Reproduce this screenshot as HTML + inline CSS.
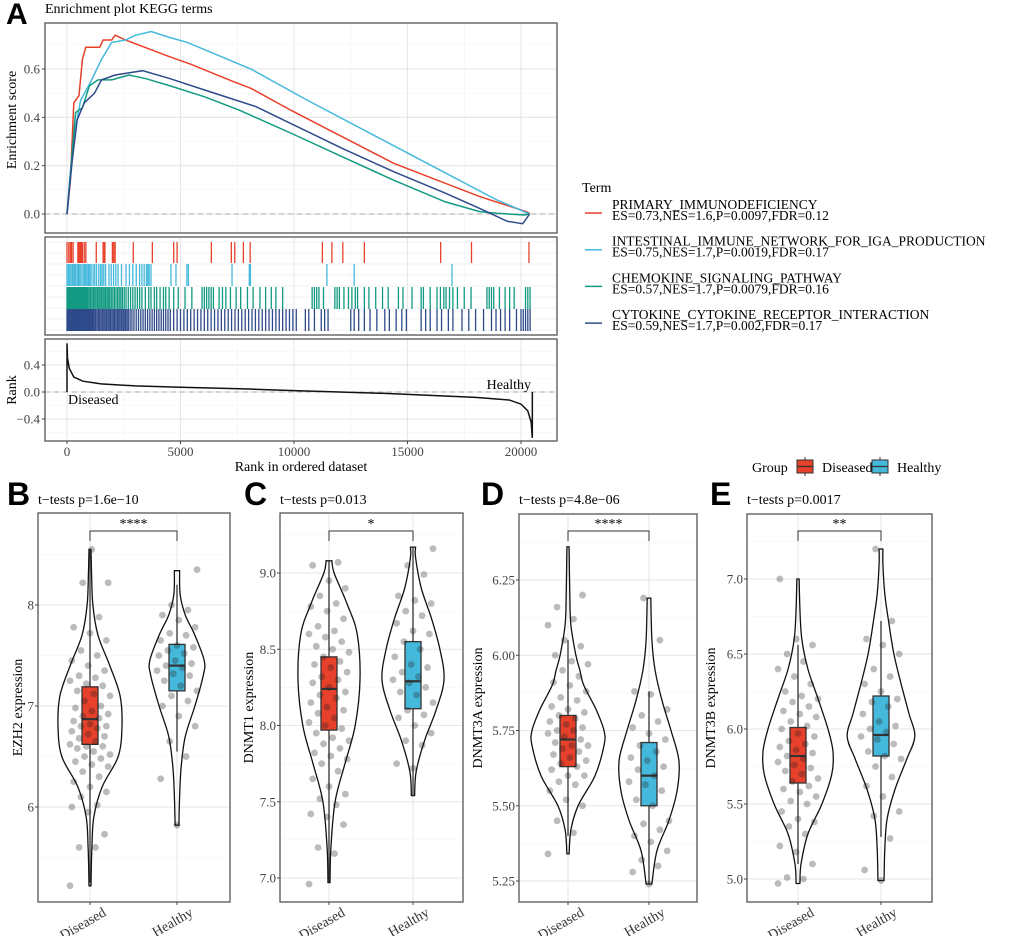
<!DOCTYPE html>
<html><head><meta charset="utf-8"><style>
body{margin:0;background:#fff;}
svg{display:block;font-family:"Liberation Serif",serif;}
</style></head><body>
<svg id="fig" width="1020" height="936" viewBox="0 0 1020 936"></svg>
<script>
// ---------- GSEA data ----------
const redRanks=[0,150,300,530,680,830,1440,1590,1970,2120,2580,4545,5450,7270,8100,9850,12120,14390,16670,18180,20230,20380];
const redES=[0,.14,.46,.49,.64,.69,.69,.72,.72,.74,.72,.65,.62,.55,.52,.43,.32,.21,.127,.072,.01,.003];
const blueRanks=[0,150,380,600,1060,1520,1970,2580,3030,3710,4545,5300,8100,10600,13640,16670,18940,20380];
const blueES=[0,.17,.36,.47,.55,.64,.71,.72,.74,.755,.73,.71,.60,.47,.32,.17,.058,0];
const greenRanks=[0,150,380,680,985,1360,1970,2730,3480,4545,6060,7580,9850,12120,14390,16670,18180,18940,20150,20380];
const greenES=[0,.17,.42,.44,.53,.555,.555,.575,.56,.53,.485,.43,.335,.237,.14,.05,.01,.003,-.004,0];
const navyRanks=[0,230,450,760,1210,1520,2120,3330,4545,6060,8330,9850,12120,14390,16670,18180,19390,20080,20380];
const navyES=[0,.22,.39,.46,.5,.555,.575,.593,.56,.513,.444,.375,.272,.175,.086,.023,-.03,-.04,0];
const redHits=[0,80,150,200,270,480,530,580,610,640,680,760,830,1290,1590,1640,1670,2000,2060,2120,2920,3760,4700,4850,6360,7240,7390,7770,8070,11250,11670,12150,13100,16460,17820,20350];
const blueHits=[0,60,120,180,240,300,330,380,450,500,560,620,700,760,820,880,940,1000,1060,1150,1220,1300,1400,1480,1550,1620,1700,1850,1950,2050,2150,2250,2400,2600,2750,2900,3050,3200,3300,3400,3500,3560,3620,3700,4580,4800,5280,5350,7270,8030,8080,11450,12650,16960];
const greenHits=[0,30,60,90,120,150,180,210,240,270,300,330,360,400,440,480,520,560,600,640,680,720,760,800,840,880,920,980,1040,1100,1160,1220,1280,1340,1400,1460,1520,1580,1640,1700,1760,1820,1880,1950,2020,2090,2160,2230,2300,2370,2440,2520,2600,2700,2800,2900,3000,3100,3200,3300,3450,3600,3700,3850,3950,4100,4250,4350,4500,4700,4900,5200,5500,5950,6050,6150,6250,6350,6450,6700,6850,7000,7200,7450,7650,7950,8200,8500,8750,9000,9200,9500,10800,10900,11000,11100,11300,11800,11900,12000,12200,12400,12550,12700,12800,13100,13300,13600,13900,14150,14600,14800,15200,15600,15700,16000,16300,16450,16600,16700,16850,17000,17200,17500,17800,18500,18600,18700,18800,19050,19300,19500,19700,20200,20300,20400];
const navyHits=[0,30,60,90,120,150,180,210,240,270,300,330,360,390,420,450,480,510,540,570,600,630,660,690,720,760,800,840,880,920,960,1000,1040,1080,1120,1160,1200,1260,1320,1380,1440,1500,1560,1620,1680,1740,1800,1860,1920,1980,2040,2100,2160,2220,2280,2340,2400,2460,2520,2580,2640,2700,2780,2860,2950,3050,3150,3250,3350,3450,3550,3650,3750,3850,3950,4050,4150,4250,4350,4450,4550,4700,4850,5000,5150,5300,5450,5600,5750,5900,6050,6200,6350,6500,6650,6800,6950,7100,7250,7400,7550,7700,7850,8000,8150,8300,8450,8600,8750,8900,9050,9200,9350,9500,9650,9800,9950,10100,10500,10650,10900,11200,11350,11500,12500,12650,12850,13100,13350,13650,14000,14200,14500,14750,14950,15600,15800,16000,16300,16500,16800,17000,17400,17700,18000,18350,18700,18900,19100,19300,19500,19800,20000,20100,20200,20300,20400];
const rankX=[0,20,100,300,700,1500,3000,5000,8000,10000,12000,14000,16000,18000,19500,20000,20300,20450,20500];
const rankM=[.72,.5,.35,.22,.16,.12,.09,.07,.045,.02,0,-.02,-.05,-.08,-.12,-.18,-.28,-.45,-.68];
const xTicks=[0,5000,10000,15000,20000];
const esTicks=[0,0.2,0.4,0.6];
const rankTicks=[-0.4,0,0.4];
const termNames=["PRIMARY_IMMUNODEFICIENCY","INTESTINAL_IMMUNE_NETWORK_FOR_IGA_PRODUCTION","CHEMOKINE_SIGNALING_PATHWAY","CYTOKINE_CYTOKINE_RECEPTOR_INTERACTION"];
const termStats=["ES=0.73,NES=1.6,P=0.0097,FDR=0.12","ES=0.75,NES=1.7,P=0.0019,FDR=0.17","ES=0.57,NES=1.7,P=0.0079,FDR=0.16","ES=0.59,NES=1.7,P=0.002,FDR=0.17"];

// ---------- violin data ----------
const bDisVals=[5.22,5.6,5.6,5.73,5.95,6.0,6.02,6.1,6.15,6.2,6.25,6.3,6.35,6.4,6.42,6.45,6.48,6.5,6.52,6.55,6.58,6.6,6.6,6.62,6.65,6.68,6.7,6.72,6.75,6.78,6.8,6.8,6.82,6.85,6.88,6.9,6.92,6.95,6.98,7.0,7.05,7.1,7.12,7.15,7.2,7.22,7.25,7.28,7.3,7.35,7.4,7.45,7.5,7.55,7.65,7.72,7.78,7.88,8.22,8.22,8.55];
const bHeaVals=[5.82,6.28,6.5,6.65,6.8,6.9,7.0,7.05,7.1,7.15,7.2,7.25,7.3,7.32,7.35,7.38,7.4,7.42,7.45,7.5,7.52,7.55,7.58,7.6,7.65,7.7,7.72,7.78,7.85,7.9,7.95,8.0,8.35];
const cDisVals=[6.96,7.16,7.2,7.35,7.4,7.42,7.48,7.52,7.55,7.6,7.65,7.7,7.75,7.78,7.8,7.82,7.85,7.88,7.9,7.92,7.95,7.98,8.0,8.02,8.05,8.08,8.1,8.12,8.15,8.18,8.2,8.22,8.25,8.28,8.3,8.32,8.35,8.38,8.4,8.42,8.45,8.48,8.5,8.52,8.55,8.58,8.6,8.62,8.65,8.7,8.75,8.78,8.8,8.85,8.9,8.95,9.05,9.07];
const cHeaVals=[7.72,7.75,7.87,7.9,7.95,8.0,8.05,8.07,8.1,8.15,8.2,8.22,8.25,8.28,8.3,8.32,8.35,8.38,8.4,8.45,8.5,8.55,8.6,8.62,8.67,8.72,8.75,8.8,8.82,8.85,8.99,9.05,9.16];
const dDisVals=[5.34,5.41,5.45,5.5,5.52,5.55,5.57,5.58,5.6,5.6,5.62,5.63,5.64,5.65,5.66,5.67,5.68,5.69,5.7,5.7,5.71,5.72,5.73,5.74,5.75,5.75,5.76,5.77,5.78,5.79,5.8,5.81,5.82,5.83,5.85,5.86,5.88,5.9,5.91,5.93,5.95,5.97,5.98,6.0,6.03,6.05,6.1,6.12,6.16,6.2];
const dHeaVals=[5.24,5.28,5.3,5.32,5.35,5.38,5.4,5.42,5.44,5.45,5.5,5.52,5.55,5.57,5.58,5.6,5.62,5.63,5.65,5.66,5.68,5.7,5.72,5.74,5.76,5.78,5.8,5.82,5.87,5.88,6.05,6.19];
const eDisVals=[4.97,5.0,5.01,5.1,5.18,5.22,5.3,5.35,5.38,5.4,5.45,5.5,5.52,5.55,5.58,5.6,5.62,5.65,5.67,5.7,5.72,5.74,5.76,5.78,5.8,5.82,5.84,5.86,5.88,5.9,5.92,5.95,5.97,6.0,6.02,6.05,6.08,6.1,6.12,6.15,6.18,6.2,6.22,6.25,6.3,6.35,6.4,6.45,6.5,6.56,6.6,7.0];
const eHeaVals=[4.99,5.06,5.27,5.42,5.45,5.55,5.62,5.68,5.75,5.8,5.82,5.85,5.9,5.93,5.95,5.98,6.0,6.02,6.05,6.1,6.15,6.18,6.2,6.25,6.3,6.35,6.4,6.5,6.56,6.6,6.72,7.2];
const bDisLev=[5.22,5.6,5.9,6.2,6.5,6.8,7.1,7.4,7.7,8.0,8.3,8.55], bDisDen=[.03,.06,.12,.38,.88,1,.94,.62,.25,.09,.05,.03];
const bHeaLev=[5.82,6.1,6.4,6.7,7.0,7.3,7.45,7.7,7.9,8.1,8.34], bHeaDen=[.06,.08,.13,.26,.56,.82,.85,.56,.26,.1,.08];
const cDisLev=[6.97,7.2,7.5,7.75,8.0,8.3,8.6,8.8,9.0,9.08], cDisDen=[.03,.06,.19,.5,.82,.97,.88,.56,.16,.09];
const cHeaLev=[7.54,7.7,7.9,8.1,8.3,8.5,8.7,8.9,9.1,9.17], cHeaDen=[.05,.1,.36,.72,.97,.84,.58,.26,.08,.08];
const dDisLev=[5.34,5.42,5.5,5.6,5.7,5.75,5.82,5.9,5.95,6.0,6.1,6.2,6.36], dDisDen=[.03,.08,.28,.75,1,1,.78,.44,.33,.22,.08,.05,.03];
const dHeaLev=[5.24,5.35,5.45,5.55,5.65,5.75,5.85,5.95,6.05,6.19], dHeaDen=[.08,.22,.55,.78,.83,.61,.36,.17,.08,.05];
const eDisLev=[4.97,5.1,5.3,5.5,5.7,5.85,6.0,6.2,6.4,6.6,6.8,7.0], eDisDen=[.05,.08,.26,.63,.89,.92,.79,.53,.26,.1,.05,.03];
const eHeaLev=[4.99,5.2,5.4,5.6,5.8,5.95,6.1,6.3,6.5,6.7,6.9,7.1,7.2], eHeaDen=[.08,.1,.16,.37,.68,.89,.74,.53,.34,.21,.1,.05,.05];
const bDisBox=[5.25,6.62,6.87,7.19,8.55], bHeaBox=[6.55,7.15,7.40,7.61,8.20];
const cDisBox=[6.97,7.97,8.24,8.45,9.08], cHeaBox=[7.54,8.11,8.29,8.55,9.17];
const dDisBox=[5.40,5.63,5.72,5.80,6.05], dHeaBox=[5.24,5.50,5.60,5.71,5.88];
const eDisBox=[5.10,5.64,5.82,6.01,6.56], eHeaBox=[5.28,5.82,5.96,6.22,6.72];
const bTicks=[6,7,8], cTicks=[7.0,7.5,8.0,8.5,9.0], dTicks=[5.25,5.50,5.75,6.00,6.25], eTicks=[5.0,5.5,6.0,6.5,7.0];
const groups=["Diseased","Healthy"];

const NS="http://www.w3.org/2000/svg";
const svg=document.getElementById('fig');
function el(tag,attrs,parent,text){const e=document.createElementNS(NS,tag);for(const k in attrs)e.setAttribute(k,attrs[k]);if(text!==undefined)e.textContent=text;(parent||svg).appendChild(e);return e;}
const COLS=["#e8412b","#45b9dc","#129a82","#2f4a8a"];

// ---------- Panel A ----------
const L=45,R=557;
const xs=v=>67+(v/20000)*(521-67);
const yES=v=>214-(v/0.6)*(214-69);
const yRank=v=>392-(v/0.4)*(392-365);
const gA=el('g',{});

let t=el('text',{x:6,y:24,'font-family':'Liberation Sans, sans-serif','font-weight':'bold','font-size':30},gA,'A');

t=el('text',{x:45,y:13,'font-size':14},gA,'Enrichment plot KEGG terms');

function vgrid(g,top,bot){for(let v=0;v<=20000;v+=2500){const x=xs(v);el('line',{x1:x,x2:x,y1:top,y2:bot,stroke:v%5000?'#f3f3f3':'#e6e6e6','stroke-width':v%5000?0.6:1.1},g);}}
const gES=el('g',{},gA);
vgrid(gES,23,233);
for(let v=-0.1;v<=0.75;v+=0.1){const y=yES(v);if(y<23||y>233)continue;const maj=Math.abs(Math.round(v*10)%2)===0;el('line',{x1:L,x2:R,y1:y,y2:y,stroke:maj?'#e6e6e6':'#f3f3f3','stroke-width':maj?1.1:0.6},gES);}
el('line',{x1:L,x2:R,y1:yES(0),y2:yES(0),stroke:'#aaa','stroke-dasharray':'5,4'},gES);
[[redRanks,redES],[blueRanks,blueES],[greenRanks,greenES],[navyRanks,navyES]].forEach((s,i)=>{
 const p=el('path',{d:s[0].map((r,j)=>(j?'L':'M')+xs(r).toFixed(1)+','+yES(s[1][j]).toFixed(1)).join(''),fill:'none',stroke:COLS[i],'stroke-width':1.5},gES);
 
});
el('rect',{x:L,y:23,width:R-L,height:210,fill:'none',stroke:'#555','stroke-width':1.3},gES);
esTicks.forEach(v=>{el('text',{x:L-5,y:yES(v)+4.5,'font-size':13,'text-anchor':'end',fill:'#444'},gES,v.toFixed(1));el('line',{x1:L-3,x2:L,y1:yES(v),y2:yES(v),stroke:'#444'},gES);});
t=el('text',{x:16,y:120,'font-size':14,'text-anchor':'middle',transform:'rotate(-90 16 120)'},gES,'Enrichment score');

const gRug=el('g',{},gA);
vgrid(gRug,237,335);
for(let y=242;y<335;y+=11)el('line',{x1:L,x2:R,y1:y,y2:y,stroke:'#eeeeee','stroke-width':0.8},gRug);
const rows=[[242,263],[264,286],[287,309],[309,331]];
[redHits,blueHits,greenHits,navyHits].forEach((h,i)=>{h.forEach(r=>{const x=xs(r);el('line',{x1:x,x2:x,y1:rows[i][0],y2:rows[i][1],stroke:COLS[i],'stroke-width':1.3},gRug);});});
el('rect',{x:L,y:237,width:R-L,height:98,fill:'none',stroke:'#555','stroke-width':1.3},gRug);
const gR=el('g',{},gA);
vgrid(gR,339,441);
for(let v=-0.6;v<=0.8;v+=0.2){const y=yRank(v);if(y<339||y>441)continue;const maj=Math.abs(Math.round(v*10)%4)===0;el('line',{x1:L,x2:R,y1:y,y2:y,stroke:maj?'#e6e6e6':'#f3f3f3','stroke-width':maj?1.1:0.6},gR);}
el('line',{x1:L,x2:R,y1:yRank(0),y2:yRank(0),stroke:'#aaa','stroke-dasharray':'5,4'},gR);
let rp=el('path',{d:'M'+xs(0)+','+yRank(0)+rankX.map((r,j)=>'L'+xs(r).toFixed(1)+','+yRank(rankM[j]).toFixed(1)).join('')+'L'+xs(20500)+','+yRank(0),fill:'none',stroke:'#111','stroke-width':1.5},gR);

el('text',{x:68,y:404,'font-size':14},gR,'Diseased');
el('text',{x:531,y:389,'font-size':14,'text-anchor':'end'},gR,'Healthy');
el('rect',{x:L,y:339,width:R-L,height:102,fill:'none',stroke:'#555','stroke-width':1.3},gR);
rankTicks.forEach(v=>{el('text',{x:L-5,y:yRank(v)+4.5,'font-size':13,'text-anchor':'end',fill:'#444'},gR,(v<0?'\u2212':'')+Math.abs(v).toFixed(1));el('line',{x1:L-3,x2:L,y1:yRank(v),y2:yRank(v),stroke:'#444'},gR);});
t=el('text',{x:16,y:390,'font-size':14,'text-anchor':'middle',transform:'rotate(-90 16 390)'},gR,'Rank');

xTicks.forEach(v=>{el('line',{x1:xs(v),x2:xs(v),y1:441,y2:444,stroke:'#444'},gR);el('text',{x:xs(v),y:456,'font-size':13,'text-anchor':'middle',fill:'#444'},gR,String(v));});
t=el('text',{x:301,y:471,'font-size':14,'text-anchor':'middle'},gR,'Rank in ordered dataset');

const gL=el('g',{},gA);
el('text',{x:582,y:192,'font-size':14},gL,'Term');
termNames.forEach((n,i)=>{const y=213+i*36.7;
 const e=el('g',{},gL);
 el('line',{x1:585,x2:602,y1:y,y2:y,stroke:COLS[i],'stroke-width':1.5},e);
 el('text',{x:612,y:y-4,'font-size':13.5},e,n);
 el('text',{x:612,y:y+7,'font-size':13.5},e,termStats[i]);
});

const gG=el('g',{});
el('text',{x:752,y:472,'font-size':14},gG,'Group');
[[797,'#e8412b','Diseased'],[872,'#45b9dc','Healthy']].forEach(([x,c,n])=>{
 el('line',{x1:x+8,x2:x+8,y1:457,y2:476,stroke:'#333'},gG);
 el('rect',{x:x,y:460,width:16,height:13,fill:c,stroke:'#333'},gG);
 el('line',{x1:x,x2:x+16,y1:466.5,y2:466.5,stroke:'#333','stroke-width':1.3},gG);
 el('text',{x:x+25,y:472,'font-size':14},gG,n);
});

function smoothPath(pts){let d='M'+pts[0][0].toFixed(1)+','+pts[0][1].toFixed(1);
 for(let i=0;i<pts.length-1;i++){const p0=pts[Math.max(0,i-1)],p1=pts[i],p2=pts[i+1],p3=pts[Math.min(pts.length-1,i+2)];
  d+='C'+(p1[0]+(p2[0]-p0[0])/6).toFixed(1)+','+(p1[1]+(p2[1]-p0[1])/6).toFixed(1)+' '+(p2[0]-(p3[0]-p1[0])/6).toFixed(1)+','+(p2[1]-(p3[1]-p1[1])/6).toFixed(1)+' '+p2[0].toFixed(1)+','+p2[1].toFixed(1);}
 return d;}
function panel(cfg){
 const g=el('g',{});
 const {x0,x1,y0,y1,vLo,vHi,yLo,yHi,cx,ticks,maxW}=cfg;
 const ys=v=>yLo+(v-vLo)/(vHi-vLo)*(yHi-yLo);
 el('text',{x:cfg.lx,y:505,'font-family':'Liberation Sans, sans-serif','font-weight':'bold','font-size':32},g,cfg.id.toUpperCase());
 el('text',{x:x0,y:504,'font-size':14},g,cfg.title);
 const step=ticks[1]-ticks[0];
 for(let v=ticks[0]-step*1.5;v<=ticks[ticks.length-1]+step*1.5;v+=step/2){const y=ys(v);if(y<y0||y>y1)continue;const maj=Math.abs(((v-ticks[0])/step)-Math.round((v-ticks[0])/step))<0.01;el('line',{x1:x0,x2:x1,y1:y,y2:y,stroke:maj?'#e6e6e6':'#f3f3f3','stroke-width':maj?1.1:0.6},g);}
 cx.forEach(x=>el('line',{x1:x,x2:x,y1:y0,y2:y1,stroke:'#e6e6e6','stroke-width':1.1},g));
 [[cfg.lev[0],cfg.den[0]],[cfg.lev[1],cfg.den[1]]].forEach((vd,k)=>{
  const right=vd[0].map((v,j)=>[cx[k]+vd[1][j]*maxW,ys(v)]);
  const left=vd[0].map((v,j)=>[cx[k]-vd[1][j]*maxW,ys(v)]).reverse();
  const lp=smoothPath(left);
  const d=smoothPath(right)+'L'+left[0][0].toFixed(1)+','+left[0][1].toFixed(1)+lp.slice(lp.indexOf('C'))+'Z';
  const p=el('path',{d:d,fill:'none',stroke:'#111','stroke-width':1.3},g);
  
 });
 const bc=['#e8412b','#45b9dc'];
 cfg.box.forEach((b,k)=>{
  el('line',{x1:cx[k],x2:cx[k],y1:ys(b[0]),y2:ys(b[4]),stroke:'#333','stroke-width':1.3},g);
  const r=el('rect',{x:cx[k]-8,y:ys(b[3]),width:16,height:ys(b[1])-ys(b[3]),fill:bc[k],stroke:'#333','stroke-width':1.3},g);
  
  el('line',{x1:cx[k]-8,x2:cx[k]+8,y1:ys(b[2]),y2:ys(b[2]),stroke:'#333','stroke-width':2.2},g);
 });
 cfg.pts.forEach((arr,k)=>{arr.forEach((v,j)=>{const off=(((j*37+k*11)%23)/22-0.5)*40;
  el('circle',{cx:cx[k]+off,cy:ys(v),r:3.4,fill:'rgba(30,30,30,0.3)'},g);});});
 el('path',{d:`M${cx[0]},541V531H${cx[1]}V541`,fill:'none',stroke:'#333','stroke-width':1},g);
 el('text',{x:(cx[0]+cx[1])/2,y:528,'font-size':14,'text-anchor':'middle'},g,cfg.sig);
 el('rect',{x:x0,y:y0,width:x1-x0,height:y1-y0,fill:'none',stroke:'#555','stroke-width':1.3},g);
 ticks.forEach(v=>{el('line',{x1:x0-3,x2:x0,y1:ys(v),y2:ys(v),stroke:'#444'},g);el('text',{x:x0-4,y:ys(v)+4.5,'font-size':13,'text-anchor':'end',fill:'#444'},g,v.toFixed(cfg.dec));});
 groups.forEach((n,k)=>{el('line',{x1:cx[k],x2:cx[k],y1:y1,y2:y1+3,stroke:'#444'},g);
  const tx=cx[k]+17, ty=y1+13;
  const lb=el('text',{x:tx,y:ty,'font-size':14,'text-anchor':'end',transform:`rotate(-30 ${tx} ${ty})`,fill:'#333'},g,n);
  });
 const ax=cfg.ytx, ay=(y0+y1)/2;
 const yt=el('text',{x:ax,y:ay,'font-size':14,'text-anchor':'middle',transform:`rotate(-90 ${ax} ${ay})`},g,cfg.ylab);
 
}
panel({id:'b',lx:7,x0:38,x1:230,y0:513,y1:902,vLo:6,vHi:8,yLo:807,yHi:605,cx:[90,177],ticks:bTicks,dec:0,maxW:32,
 lev:[bDisLev,bHeaLev],den:[bDisDen,bHeaDen],box:[bDisBox,bHeaBox],pts:[bDisVals,bHeaVals],title:'t\u2212tests p=1.6e\u221210',sig:'****',ylab:'EZH2 expression',ytx:22});
panel({id:'c',lx:244,x0:280,x1:463,y0:513,y1:902,vLo:7,vHi:9,yLo:878,yHi:573,cx:[329,413],ticks:cTicks,dec:1,maxW:32,
 lev:[cDisLev,cHeaLev],den:[cDisDen,cHeaDen],box:[cDisBox,cHeaBox],pts:[cDisVals,cHeaVals],title:'t\u2212tests p=0.013',sig:'*',ylab:'DNMT1 expression',ytx:253});
panel({id:'d',lx:481,x0:519,x1:697,y0:514,y1:902,vLo:5.25,vHi:6.25,yLo:881,yHi:580,cx:[568,649],ticks:dTicks,dec:2,maxW:36,
 lev:[dDisLev,dHeaLev],den:[dDisDen,dHeaDen],box:[dDisBox,dHeaBox],pts:[dDisVals,dHeaVals],title:'t\u2212tests p=4.8e\u221206',sig:'****',ylab:'DNMT3A expression',ytx:482});
panel({id:'e',lx:710,x0:747,x1:932,y0:514,y1:902,vLo:5,vHi:7,yLo:879,yHi:579,cx:[798,881],ticks:eTicks,dec:1,maxW:38,
 lev:[eDisLev,eHeaLev],den:[eDisDen,eHeaDen],box:[eDisBox,eHeaBox],pts:[eDisVals,eHeaVals],title:'t\u2212tests p=0.0017',sig:'**',ylab:'DNMT3B expression',ytx:715});
</script>
</body></html>
